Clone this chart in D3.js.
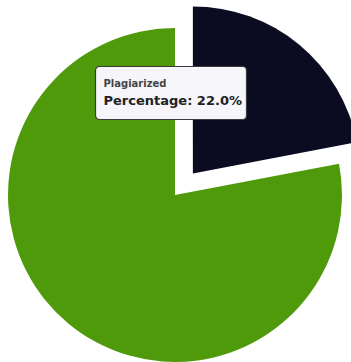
<!DOCTYPE html>
<html>
<head>
<meta charset="utf-8">
<script src="https://cdn.jsdelivr.net/npm/d3@7"></script>
<style>
  html, body { margin: 0; padding: 0; background: #ffffff; }
  svg { display: block; }
</style>
</head>
<body>
<svg id="chart" width="351" height="362"></svg>
<script>
// Share of submitted text by category (percent)
const categories = ["Plagiarized", "Original"];
const values = [22.0, 78.0];
const colors = ["#0b0c22", "#4f9a0b"];
const highlighted = "Plagiarized";

const width = 351, height = 362;
const cx = 175, cy = 195, radius = 167, explode = 28;

const svg = d3.select("#chart");
const g = svg.append("g").attr("transform", `translate(${cx},${cy})`);

const pie = d3.pie().sort(null).value(d => d.value);
const arc = d3.arc().innerRadius(0).outerRadius(radius);
const color = d3.scaleOrdinal().domain(categories).range(colors);

const slices = pie(categories.map((c, i) => ({ category: c, value: values[i] })));

g.selectAll("path.slice")
  .data(slices)
  .join("path")
  .attr("class", "slice")
  .attr("d", arc)
  .attr("fill", d => color(d.data.category))
  .attr("transform", d => {
    if (d.data.category !== highlighted) return null;
    const mid = (d.startAngle + d.endAngle) / 2;
    return `translate(${Math.sin(mid) * explode},${-Math.cos(mid) * explode})`;
  });

// Tooltip for the highlighted slice
const hi = slices.find(d => d.data.category === highlighted);
const total = d3.sum(values);
const tip = svg.append("g").attr("transform", "translate(95.5,66.5)");
tip.append("rect")
  .attr("width", 151).attr("height", 53)
  .attr("rx", 4).attr("ry", 4)
  .attr("fill", "#f6f6fa")
  .attr("stroke", "#3a3a3a").attr("stroke-width", 1.2);
tip.append("text")
  .attr("x", 8).attr("y", 20)
  .attr("font-family", "DejaVu Sans, sans-serif")
  .attr("font-size", 10)
  .attr("font-weight", "bold")
  .attr("fill", "#444")
  .text(hi.data.category);
tip.append("text")
  .attr("x", 8).attr("y", 38)
  .attr("font-family", "DejaVu Sans, sans-serif")
  .attr("font-size", 13)
  .attr("font-weight", "bold")
  .attr("fill", "#222")
  .text("Percentage: " + d3.format(".1f")(hi.data.value / total * 100) + "%");
</script>
</body>
</html>
